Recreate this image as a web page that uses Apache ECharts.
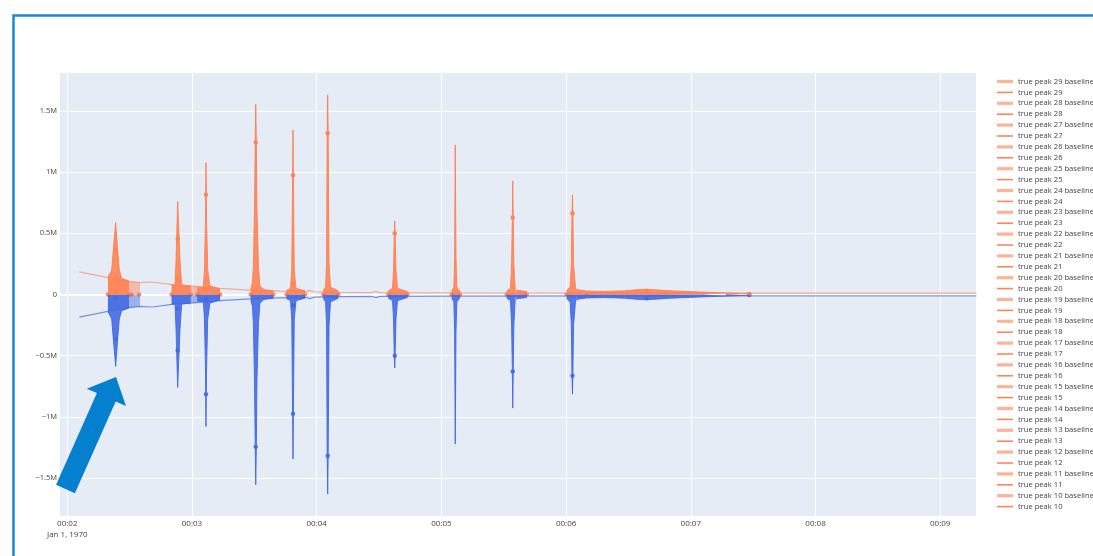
<!DOCTYPE html>
<html>
<head>
<meta charset="utf-8">
<script src="https://cdn.jsdelivr.net/npm/echarts@6/dist/echarts.min.js"></script>
<style>
html, body { margin: 0; padding: 0; background: #fff; }
#main { width: 1093px; height: 556px; }
</style>
</head>
<body>
<div id="main"></div>
<script>
// x in minutes (2 = 00:02), y in millions
var xTicks = [2, 3, 4, 5, 6, 7, 8, 9];
var yTicks = [-1.5, -1, -0.5, 0, 0.5, 1, 1.5];

var peakNums = [10, 11, 12, 13, 14, 15, 16, 17, 18, 19, 20, 21, 22, 23, 24, 25, 26, 27, 28, 29];

// outline of each detected peak (filled down to zero)
var peakCurves = [
    [[2.326, 0.138], [2.356, 0.2], [2.369, 0.364], [2.388, 0.587], [2.404, 0.364], [2.417, 0.2], [2.436, 0.132], [2.495, 0.11]],
    [[2.837, 0.08], [2.864, 0.078], [2.872, 0.28], [2.885, 0.759], [2.904, 0.28], [2.917, 0.078], [2.99, 0.07]],
    [[3.042, 0.055], [3.091, 0.06], [3.100, 0.2], [3.108, 0.6], [3.112, 1.078], [3.117, 0.6], [3.126, 0.2], [3.144, 0.07], [3.225, 0.045]],
    [[3.471, 0.04], [3.485, 0.1], [3.492, 0.23], [3.501, 0.7], [3.507, 1.244], [3.511, 1.555], [3.516, 1.244], [3.521, 0.7], [3.533, 0.23], [3.545, 0.07]],
    [[3.545, 0.07], [3.577, 0.04], [3.652, 0.03]],
    [[3.759, 0.035], [3.79, 0.05], [3.8, 0.2], [3.807, 0.975], [3.81, 1.345], [3.813, 0.975], [3.82, 0.2], [3.834, 0.05], [3.906, 0.03]],
    [[4.053, 0.035], [4.071, 0.06], [4.079, 0.25], [4.084, 1.318], [4.088, 1.631], [4.092, 1.318], [4.099, 0.25], [4.111, 0.06], [4.173, 0.03]],
    [[4.574, 0.03], [4.608, 0.05], [4.616, 0.2], [4.622, 0.5], [4.626, 0.601], [4.629, 0.5], [4.636, 0.2], [4.648, 0.05], [4.728, 0.025]],
    [[5.083, 0.03], [5.1, 0.06], [5.106, 0.3], [5.111, 1.222], [5.117, 0.3], [5.124, 0.06], [5.149, 0.025]],
    [[5.524, 0.03], [5.554, 0.05], [5.563, 0.25], [5.569, 0.63], [5.572, 0.928], [5.576, 0.63], [5.581, 0.25], [5.591, 0.05], [5.6, 0.035]],
    [[5.6, 0.035], [5.684, 0.025]],
    [[6.005, 0.035], [6.032, 0.06], [6.042, 0.25], [6.047, 0.664], [6.051, 0.814], [6.054, 0.664], [6.06, 0.25], [6.075, 0.06], [6.083, 0.04]],
    [[6.083, 0.04], [6.165, 0.028]],
    [[6.165, 0.028], [6.31, 0.025]],
    [[6.31, 0.025], [6.47, 0.03]],
    [[6.47, 0.03], [6.58, 0.04], [6.646, 0.042]],
    [[6.646, 0.042], [6.72, 0.038], [6.84, 0.03]],
    [[6.84, 0.03], [7.08, 0.02]],
    [[7.08, 0.02], [7.28, 0.013]],
    [[7.28, 0.013], [7.469, 0.006]]
];

// baseline under each peak
var baseCurves = [
    [[2.326, 0.138], [2.495, 0.108], [2.583, 0.097]],
    [[2.837, 0.08], [2.99, 0.07], [3.051, 0.066]],
    [[3.042, 0.055], [3.225, 0.045]],
    [[3.471, 0.04], [3.545, 0.035]],
    [[3.545, 0.035], [3.652, 0.03]],
    [[3.759, 0.035], [3.906, 0.03]],
    [[4.053, 0.033], [4.173, 0.028]],
    [[4.574, 0.028], [4.728, 0.024]],
    [[5.083, 0.026], [5.149, 0.024]],
    [[5.524, 0.026], [5.6, 0.025]],
    [[5.6, 0.025], [5.684, 0.023]],
    [[6.005, 0.03], [6.083, 0.028]],
    [[6.083, 0.028], [6.165, 0.025]],
    [[6.165, 0.025], [6.31, 0.022]],
    [[6.31, 0.022], [6.47, 0.022]],
    [[6.47, 0.022], [6.646, 0.02]],
    [[6.646, 0.02], [6.84, 0.018]],
    [[6.84, 0.018], [7.08, 0.014]],
    [[7.08, 0.014], [7.28, 0.01]],
    [[7.28, 0.01], [7.469, 0.006]]
];

// the raw signal (thin line)
var signalLine = [
    [2.096, 0.185], [2.326, 0.138], [2.495, 0.108], [2.583, 0.097], [2.67, 0.102], [2.682, 0.118], [2.694, 0.1],
    [2.84, 0.081], [2.984, 0.07], [3.064, 0.065], [3.225, 0.05], [3.466, 0.035], [3.706, 0.028], [3.915, 0.024],
    [3.947, 0.034], [3.979, 0.022], [4.187, 0.018], [4.444, 0.016], [4.476, 0.026], [4.508, 0.015], [5.069, 0.013],
    [6.272, 0.012], [9.29, 0.011]
];

// detected points
var peakDots = [
    [2.388, 0.364], [2.388, 0.029], [2.326, 0], [2.495, 0], [2.514, 0], [2.576, 0],
    [2.885, 0.456], [2.885, 0.116], [2.837, 0], [2.99, 0], [3.051, 0],
    [3.112, 0.816], [3.112, 0.037], [3.042, 0], [3.225, 0],
    [3.511, 1.244], [3.471, 0], [3.652, 0],
    [3.81, 0.975], [3.81, 0.09], [3.759, 0], [3.906, 0],
    [4.088, 1.318], [4.053, 0], [4.173, 0],
    [4.626, 0.5], [4.574, 0], [4.728, 0],
    [5.083, 0], [5.149, 0],
    [5.572, 0.63], [5.524, 0], [5.684, 0],
    [6.051, 0.664], [6.005, 0], [6.165, 0],
    [6.646, 0.03], [7.469, 0.005]
];

var orange = '#FF7F50';
var blue = '#4169E1';

function mirror(pts) {
    return pts.map(function (p) { return [p[0], -p[1]]; });
}

var series = [];
// mirrored (blue) traces first, under the orange ones
peakNums.forEach(function (n, i) {
    series.push({
        name: 'mirror peak ' + n + ' baseline', type: 'line', data: mirror(baseCurves[i]),
        symbol: 'none', lineStyle: { width: 0 }, areaStyle: { color: blue, opacity: 0.45 }, silent: true,
        markLine: i === 0 ? {
            z: 1, silent: true, symbol: 'none', label: { show: false },
            lineStyle: { color: '#fff', width: 2, type: 'solid' }, data: [{ yAxis: 0 }]
        } : undefined
    });
});
peakNums.forEach(function (n, i) {
    series.push({
        name: 'mirror peak ' + n, type: 'line', data: mirror(peakCurves[i]),
        symbol: 'none', lineStyle: { width: 1, color: blue, opacity: 0.9 }, areaStyle: { color: blue, opacity: 0.88 }, silent: true
    });
});
peakNums.forEach(function (n, i) {
    series.push({
        name: 'true peak ' + n + ' baseline', type: 'line', data: baseCurves[i],
        symbol: 'none', color: orange, lineStyle: { width: 0 }, areaStyle: { color: orange, opacity: 0.45 }
    });
});
peakNums.forEach(function (n, i) {
    series.push({
        name: 'true peak ' + n, type: 'line', data: peakCurves[i],
        symbol: 'none', color: orange, lineStyle: { width: 1, color: orange, opacity: 0.9 }, areaStyle: { color: orange, opacity: 0.88 }
    });
});
series.push({
    name: 'mirror signal', type: 'line', data: mirror(signalLine), symbol: 'none', silent: true,
    lineStyle: { width: 1.2, color: blue, opacity: 0.7 }
});
series.push({
    name: 'signal', type: 'line', data: signalLine, symbol: 'none', silent: true,
    lineStyle: { width: 1.2, color: orange, opacity: 0.6 }
});
series.push({
    name: 'mirror markers', type: 'scatter', silent: true, symbolSize: 4.5,
    data: mirror(peakDots.filter(function (p) { return p[1] !== 0; })),
    itemStyle: { color: blue, opacity: 0.9 }
});
series.push({
    name: 'markers', type: 'scatter', silent: true, symbolSize: 4.5, data: peakDots,
    itemStyle: { color: orange, opacity: 0.9 }
});

var legendData = [];
for (var i = peakNums.length - 1; i >= 0; i--) {
    legendData.push({
        name: 'true peak ' + peakNums[i] + ' baseline', icon: 'path://M0,0H20V4H0Z',
        itemStyle: { color: 'rgba(255,127,80,0.6)' }
    });
    legendData.push({
        name: 'true peak ' + peakNums[i], icon: 'path://M0,0H20V2H0Z',
        itemStyle: { color: 'rgba(255,127,80,0.95)' }
    });
}

var option = {
    animation: false,
    textStyle: { fontFamily: 'Open Sans' },
    grid: {
        left: 60, right: 117, top: 73, bottom: 40,
        show: true, backgroundColor: '#E5ECF6', borderWidth: 0
    },
    xAxis: {
        type: 'value', min: 1.9415, max: 9.287,
        axisLine: { show: false },
        axisTick: { show: false, customValues: xTicks },
        splitLine: { show: true, lineStyle: { color: '#fff', width: 1 } },
        axisLabel: {
            customValues: xTicks, color: '#444', fontSize: 8, margin: 2, lineHeight: 11,
            formatter: function (v) {
                var s = '00:0' + v;
                return v === 2 ? s + '\nJan 1, 1970' : s;
            }
        }
    },
    yAxis: {
        type: 'value', min: -1.81, max: 1.81,
        axisLine: { show: false },
        axisTick: { show: false, customValues: yTicks },
        splitLine: { show: true, lineStyle: { color: '#fff', width: 1 } },
        axisLabel: {
            customValues: yTicks, color: '#444', fontSize: 7.5, margin: 3,
            formatter: function (v) {
                if (v === 0) return '0';
                return (v < 0 ? '\u2212' + (-v) : v) + 'M';
            }
        }
    },
    legend: {
        orient: 'vertical', left: 992, top: 72,
        itemWidth: 16, itemHeight: 6, itemGap: 1.9,
        textStyle: { color: '#444', fontSize: 7.6, lineHeight: 9 },
        selectedMode: false,
        data: legendData
    },
    graphic: [
        {
            type: 'rect', z: 100, silent: true,
            shape: { x: 13.5, y: 15.5, width: 1120, height: 600 },
            style: { fill: 'none', stroke: '#1B87D3', lineWidth: 2.5 }
        },
        {
            type: 'polygon', z: 100, silent: true,
            shape: { points: [[116, 377], [126, 406], [115.7, 401.5], [74.9, 493.2], [56.1, 484.8], [96.9, 393.1], [86.7, 388.7]] },
            style: { fill: '#0580CF' }
        }
    ],
    series: series
};

var myChart = echarts.init(document.getElementById('main'));
myChart.setOption(option);
</script>
</body>
</html>
